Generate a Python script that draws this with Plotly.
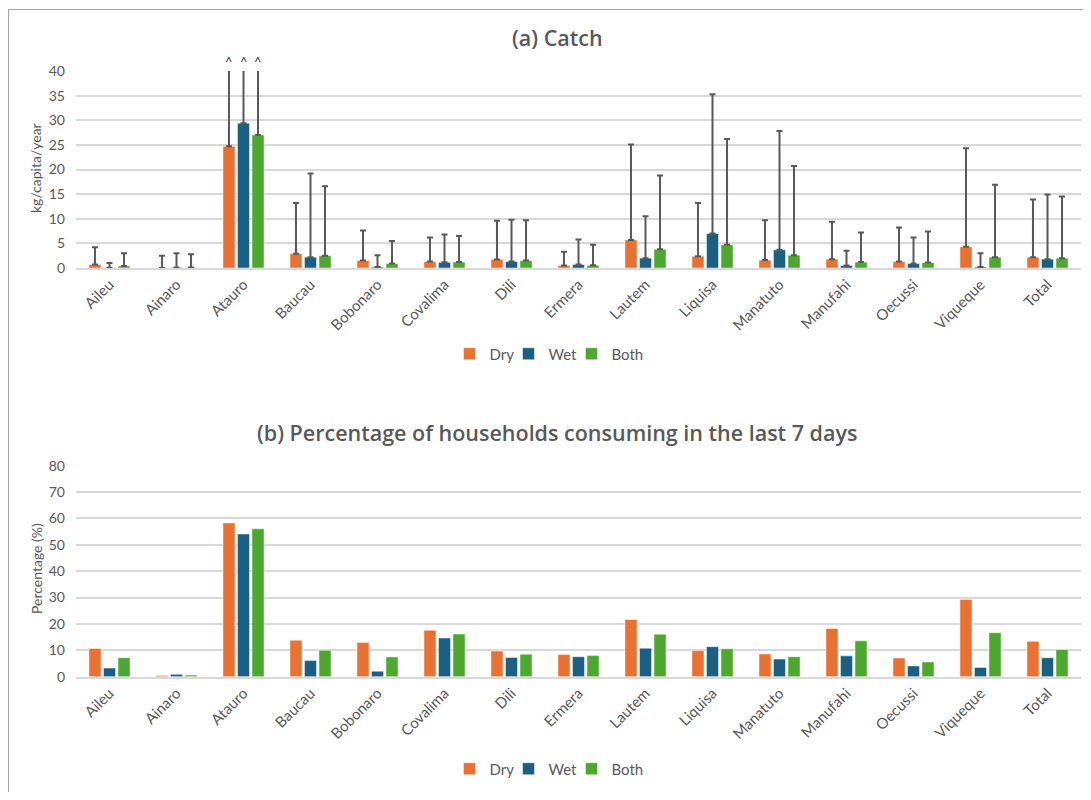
import plotly.graph_objects as go

# Page body has an 8px default margin; size the figure so the page fits the window.
OFF = 8
W, H = 1091 - 2 * OFF, 800 - 2 * OFF

districts = ["Aileu", "Ainaro", "Atauro", "Baucau", "Bobonaro", "Covalima", "Dili",
             "Ermera", "Lautem", "Liquisa", "Manatuto", "Manufahi", "Oecussi",
             "Viqueque", "Total"]
series_names = ["Dry", "Wet", "Both"]

# (a) Catch, kg/capita/year (mean)
catch_dry = [0.7, 0.0, 24.7, 2.9, 1.5, 1.3, 1.75, 0.5, 5.7, 2.4, 1.6, 1.8, 1.3, 4.3, 2.2]
catch_wet = [0.05, 0.1, 29.4, 2.2, 0.2, 1.15, 1.3, 0.7, 2.0, 7.0, 3.7, 0.5, 0.9, 0.2, 1.8]
catch_both = [0.4, 0.1, 27.0, 2.5, 0.9, 1.2, 1.5, 0.55, 3.8, 4.7, 2.6, 1.2, 1.1, 2.2, 2.0]
# upper end of the error bar (Atauro exceeds the axis maximum of 40, marked "^")
catch_dry_hi = [4.2, 2.5, 45.0, 13.2, 7.6, 6.2, 9.6, 3.3, 25.1, 13.2, 9.7, 9.4, 8.2, 24.3, 13.9]
catch_wet_hi = [1.0, 3.0, 45.0, 19.2, 2.6, 6.8, 9.8, 5.8, 10.5, 35.3, 27.8, 3.5, 6.2, 3.0, 14.9]
catch_both_hi = [3.0, 2.8, 45.0, 16.6, 5.5, 6.5, 9.7, 4.7, 18.8, 26.2, 20.7, 7.2, 7.4, 16.9, 14.5]

# (b) Percentage of households consuming in the last 7 days
pct_dry = [10.7, 0.5, 58.3, 13.8, 13.0, 17.6, 9.7, 8.4, 21.7, 9.9, 8.6, 18.3, 7.1, 29.3, 13.4]
pct_wet = [3.3, 0.9, 54.1, 6.1, 2.1, 14.7, 7.3, 7.6, 10.8, 11.4, 6.7, 7.9, 4.1, 3.5, 7.2]
pct_both = [7.2, 0.6, 56.1, 10.0, 7.5, 16.2, 8.5, 8.0, 16.1, 10.6, 7.6, 13.6, 5.6, 16.7, 10.3]

colors = ["#E97132", "#1B6083", "#4EA72E"]
legend_widths = [14, 18, 0]  # compact legend spacing (0 = automatic)
grey = "#595959"
grid = "#D9D9D9"
FONT = "Lato"
TFONT = "Open Sans"

fig = go.Figure()

catch_vals = [catch_dry, catch_wet, catch_both]
catch_hi = [catch_dry_hi, catch_wet_hi, catch_both_hi]
for name, vals, hi, col, lw in zip(series_names, catch_vals, catch_hi, colors, legend_widths):
    fig.add_trace(go.Bar(
        x=districts, y=vals, name=name,
        marker=dict(color=col, line=dict(color="rgba(255,255,255,0.6)", width=0.8)),
        error_y=dict(type="data", symmetric=False,
                     array=[h - v for h, v in zip(hi, vals)],
                     arrayminus=[0] * len(vals),
                     color=grey, thickness=2, width=3),
        xaxis="x", yaxis="y", legend="legend", offsetgroup=name,
        **({"legendwidth": lw} if lw else {}),
    ))

pct_vals = [pct_dry, pct_wet, pct_both]
for name, vals, col, lw in zip(series_names, pct_vals, colors, legend_widths):
    fig.add_trace(go.Bar(
        x=districts, y=vals, name=name,
        marker=dict(color=col, line=dict(color="rgba(255,255,255,0.6)", width=0.8)),
        xaxis="x2", yaxis="y2", legend="legend2", offsetgroup=name,
        **({"legendwidth": lw} if lw else {}),
    ))


def px_x(p):
    return (p - OFF) / W


def px_y(p):
    return 1 - (p - OFF) / H


top_dom = [px_y(268), px_y(71)]
bot_dom = [px_y(676.7), px_y(465.7)]
xdom = [px_x(76), px_x(1081)]

axis_font = dict(family=FONT, size=14, color=grey)
tick_font_x = dict(family=FONT, size=15, color=grey)
leg_font = dict(family=FONT, size=15, color=grey)

fig.update_layout(
    width=W, height=H,
    margin=dict(l=0, r=0, t=0, b=0, pad=0, autoexpand=False),
    paper_bgcolor="white", plot_bgcolor="white",
    font=dict(family=FONT, color=grey),
    barmode="group", bargap=0.35, bargroupgap=0.17,
    showlegend=True,
    xaxis=dict(domain=xdom, anchor="y", tickangle=-45, tickfont=tick_font_x, automargin=False,
               showline=True, linecolor=grid, linewidth=2, ticks="", showgrid=False),
    yaxis=dict(domain=top_dom, anchor="x", range=[0, 40], dtick=5, tickfont=axis_font, automargin=False,
               showgrid=True, gridcolor=grid, gridwidth=2, zeroline=False, showline=False,
               ticks="", ticklabelstandoff=10),
    xaxis2=dict(domain=xdom, anchor="y2", tickangle=-45, tickfont=tick_font_x, automargin=False,
                showline=True, linecolor=grid, linewidth=2, ticks="", showgrid=False),
    yaxis2=dict(domain=bot_dom, anchor="x2", range=[0, 80], dtick=10, tickfont=axis_font, automargin=False,
                showgrid=True, gridcolor=grid, gridwidth=2, zeroline=False, showline=False,
                ticks="", ticklabelstandoff=10),
    legend=dict(orientation="h", x=px_x(549), xanchor="center", y=px_y(354), yanchor="middle",
                font=leg_font, itemwidth=30, tracegroupgap=0, bgcolor="rgba(0,0,0,0)"),
    legend2=dict(orientation="h", x=px_x(549), xanchor="center", y=px_y(769), yanchor="middle",
                 font=leg_font, itemwidth=30, tracegroupgap=0, bgcolor="rgba(0,0,0,0)"),
)

title_font = dict(family=TFONT, size=21.5, color=grey, weight=600)
annotations = [
    dict(text="(a) Catch", x=px_x(557), y=px_y(38), xref="paper", yref="paper",
         showarrow=False, font=title_font, xanchor="center", yanchor="middle"),
    dict(text="(b) Percentage of households consuming in the last 7 days", x=px_x(557), y=px_y(432),
         xref="paper", yref="paper", showarrow=False, font=title_font,
         xanchor="center", yanchor="middle"),
    dict(text="kg/capita/year", x=px_x(35), y=px_y(168), xref="paper", yref="paper", textangle=-90,
         showarrow=False, font=dict(family=FONT, size=14, color=grey), xanchor="center", yanchor="middle"),
    dict(text="Percentage (%)", x=px_x(36), y=px_y(569), xref="paper", yref="paper", textangle=-90,
         showarrow=False, font=dict(family=FONT, size=14, color=grey), xanchor="center", yanchor="middle"),
]
# "^" markers for error bars that exceed the axis maximum
for shift in [-14.5, 0, 14.5]:
    annotations.append(dict(text="^", x="Atauro", y=40, xref="x", yref="y", xshift=shift, yshift=9,
                            showarrow=False, font=dict(family=FONT, size=13, color="#333333"),
                            xanchor="center", yanchor="middle"))
fig.update_layout(annotations=annotations)

# outer chart border (cropped at right and bottom)
fig.add_shape(type="rect", xref="paper", yref="paper", x0=px_x(8.5), x1=1.05, y0=-0.05, y1=px_y(9.5),
              line=dict(color="#A6A6A6", width=1.2), fillcolor="rgba(0,0,0,0)", layer="below")

fig.write_html("out.html")
